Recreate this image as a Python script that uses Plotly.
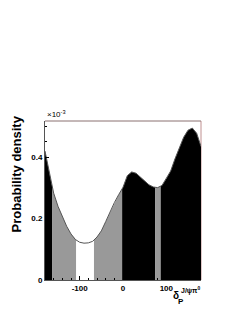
import numpy as np
import plotly.graph_objects as go

# curve (units of 1e-3)
delta_deg = [-180, -170, -160, -150, -140, -130, -120, -110, -100, -90, -80, -70, -60, -50,
             -40, -30, -20, -10, 0, 10, 20, 30, 40, 50, 60, 70, 80, 90, 100, 110, 120, 130,
             140, 150, 160, 170, 180]
density = [0.420, 0.345, 0.283, 0.240, 0.205, 0.175, 0.150, 0.132, 0.123, 0.120, 0.121, 0.126,
           0.140, 0.160, 0.190, 0.222, 0.252, 0.278, 0.302, 0.340, 0.352, 0.348, 0.335, 0.322,
           0.310, 0.303, 0.301, 0.308, 0.330, 0.355, 0.395, 0.432, 0.465, 0.488, 0.495, 0.478,
           0.435]

# credibility bands: (start, end, colour)
band_edges = [-180, -163, -108, -67, -2, 74, 87, 180]
band_colors = ["black", "#999999", "white", "#999999", "black", "#999999", "black"]

x_ticks = [-100, 0, 100]
y_ticks = [0, 0.2, 0.4]

xs = np.array(delta_deg, dtype=float)
ys = np.array(density, dtype=float)

fig = go.Figure()
for i, col in enumerate(band_colors):
    a, b = band_edges[i], band_edges[i + 1]
    inner = xs[(xs > a) & (xs < b)]
    bx = np.concatenate([[a], inner, [b]])
    by = np.interp(bx, xs, ys)
    fig.add_trace(go.Scatter(x=bx, y=by, mode="lines", fill="tozeroy",
                             fillcolor=col, line=dict(width=0, color=col),
                             hoverinfo="skip", showlegend=False))

fig.add_trace(go.Scatter(x=xs, y=ys, mode="lines", line=dict(color="#555555", width=1),
                         showlegend=False))

font = "Liberation Sans"
fig.update_layout(
    width=233, height=304,
    margin=dict(l=37, r=40, t=113, b=32),
    paper_bgcolor="white", plot_bgcolor="white",
    font=dict(family=font, size=8, color="black"),
    xaxis=dict(range=[-180, 180], tickvals=x_ticks, ticktext=["<b>-100</b>", "<b>0</b>", "<b>100</b>"],
               ticks="inside", ticklen=4, tickcolor="black", showgrid=False, zeroline=False,
               showline=True, linecolor="#555555", linewidth=1, mirror=False,
               minor=dict(dtick=20, ticks="inside", ticklen=2, tickcolor="black"),
               tickfont=dict(size=8)),
    yaxis=dict(range=[0, 0.518], tickvals=y_ticks, ticktext=["<b>0</b>", "<b>0.2</b>", "<b>0.4</b>"],
               ticks="inside", ticklen=4, tickcolor="black", showgrid=False, zeroline=False,
               showline=True, linecolor="#555555", linewidth=1,
               minor=dict(dtick=0.05, ticks="inside", ticklen=2, tickcolor="black"),
               tickfont=dict(size=8)),
    shapes=[
        dict(type="line", xref="paper", yref="paper", x0=0, x1=1, y0=1, y1=1,
             line=dict(color="#8a7070", width=1)),
        dict(type="line", xref="paper", yref="paper", x0=1, x1=1, y0=0, y1=1,
             line=dict(color="#c09090", width=1), layer="below"),
    ],
    annotations=[
        dict(text="<b>Probability density</b>", xref="paper", yref="paper",
             x=-0.18, y=0.67, xanchor="center", yanchor="middle", textangle=-90,
             showarrow=False, font=dict(size=13, family=font)),
        dict(text="×10<sup>-3</sup>", xref="paper", yref="paper", x=0, y=1,
             xanchor="left", yanchor="bottom", showarrow=False, font=dict(size=8, family=font)),
        dict(text="<b>δ</b>", xref="paper", yref="paper", x=0.842, y=-0.1,
             xanchor="center", yanchor="middle", showarrow=False, font=dict(size=10, family=font)),
        dict(text="<b>P</b>", xref="paper", yref="paper", x=0.874, y=-0.135,
             xanchor="center", yanchor="middle", showarrow=False, font=dict(size=8, family=font)),
        dict(text="<b>J/ψπ<sup>0</sup></b>", xref="paper", yref="paper", x=0.862, y=-0.064,
             xanchor="left", yanchor="middle", showarrow=False, font=dict(size=7, family=font)),
    ],
)

fig.write_html("out.html")
